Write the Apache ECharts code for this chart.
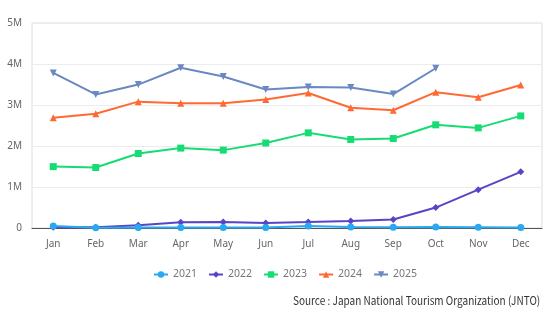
<!DOCTYPE html>
<html>
<head>
<meta charset="utf-8">
<script src="https://cdn.jsdelivr.net/npm/echarts@6/dist/echarts.min.js"></script>
<style>
html,body{margin:0;padding:0;background:#fff;}
#chart{width:560px;height:325px;}
</style>
</head>
<body>
<div id="chart"></div>
<script>
var months = ['Jan','Feb','Mar','Apr','May','Jun','Jul','Aug','Sep','Oct','Nov','Dec'];
var y2021 = [46500, 7355, 12276, 10937, 10035, 9250, 51055, 25916, 17720, 22113, 20700, 11700];
var y2022 = [17766, 16719, 66121, 139548, 147046, 120430, 144578, 169902, 206641, 498646, 934599, 1370114];
var y2023 = [1497300, 1475300, 1817500, 1949100, 1899200, 2073300, 2320600, 2159600, 2181800, 2516500, 2441300, 2734000];
var y2024 = [2688100, 2788000, 3081600, 3042900, 3040000, 3135600, 3292500, 2933000, 2872200, 3312800, 3187000, 3489800];
var y2025 = [3781629, 3258100, 3497600, 3908900, 3693300, 3377800, 3437000, 3428000, 3266800, 3896300, null, null];
var seriesNames = ['2021','2022','2023','2024','2025'];
var sourceText = 'Source : Japan National Tourism Organization (JNTO)';

var colors = ['#2aa8f2', '#5a43c6', '#16dc74', '#ff6a33', '#6a88c2'];
var symbols = ['circle', 'diamond', 'rect', 'triangle', 'path://M0,0 L10,0 L5,9 Z'];
var sizes = [7, 7, 7, 7, 7];
var datasets = [y2021, y2022, y2023, y2024, y2025];

var chart = echarts.init(document.getElementById('chart'), null, {renderer: 'canvas'});
var series = seriesNames.map(function (n, i) {
  return {
    name: n,
    type: 'line',
    data: datasets[i],
    symbol: symbols[i],
    symbolSize: sizes[i],
    showSymbol: true,
    itemStyle: {color: colors[i]},
    lineStyle: {color: colors[i], width: 2},
    z: 2 + (4 - i)
  };
});

chart.setOption({
  animation: false,
  backgroundColor: '#fff',
  textStyle: {fontFamily: '"Noto Sans", sans-serif'},
  grid: {left: 32, right: 18, top: 23, bottom: 97, show: true, borderColor: '#dcdcdc', borderWidth: 1},
  legend: {
    data: seriesNames,
    left: 148,
    top: 264,
    itemWidth: 14,
    itemHeight: 8,
    itemGap: 11,
    textStyle: {color: '#777', fontSize: 10.5, fontFamily: '"Noto Sans", sans-serif'}
  },
  xAxis: {
    type: 'category',
    data: months,
    boundaryGap: true,
    axisLine: {lineStyle: {color: '#555', width: 1}},
    axisTick: {show: false},
    axisLabel: {color: '#666', fontSize: 10, margin: 11}
  },
  yAxis: {
    type: 'value',
    min: 0,
    max: 5000000,
    interval: 1000000,
    axisLine: {show: false},
    axisTick: {show: false},
    splitLine: {lineStyle: {color: '#ececec'}},
    axisLabel: {
      color: '#666', fontSize: 10, margin: 10,
      formatter: function (v) { return v === 0 ? '0' : (v / 1000000) + 'M'; }
    }
  },
  graphic: [{
    type: 'text',
    left: 293,
    top: 295,
    scaleX: 0.87,
    style: {text: sourceText, fill: '#333', font: '400 11.5px "Noto Sans CJK JP", sans-serif'}
  }],
  series: series
});
</script>
</body>
</html>
